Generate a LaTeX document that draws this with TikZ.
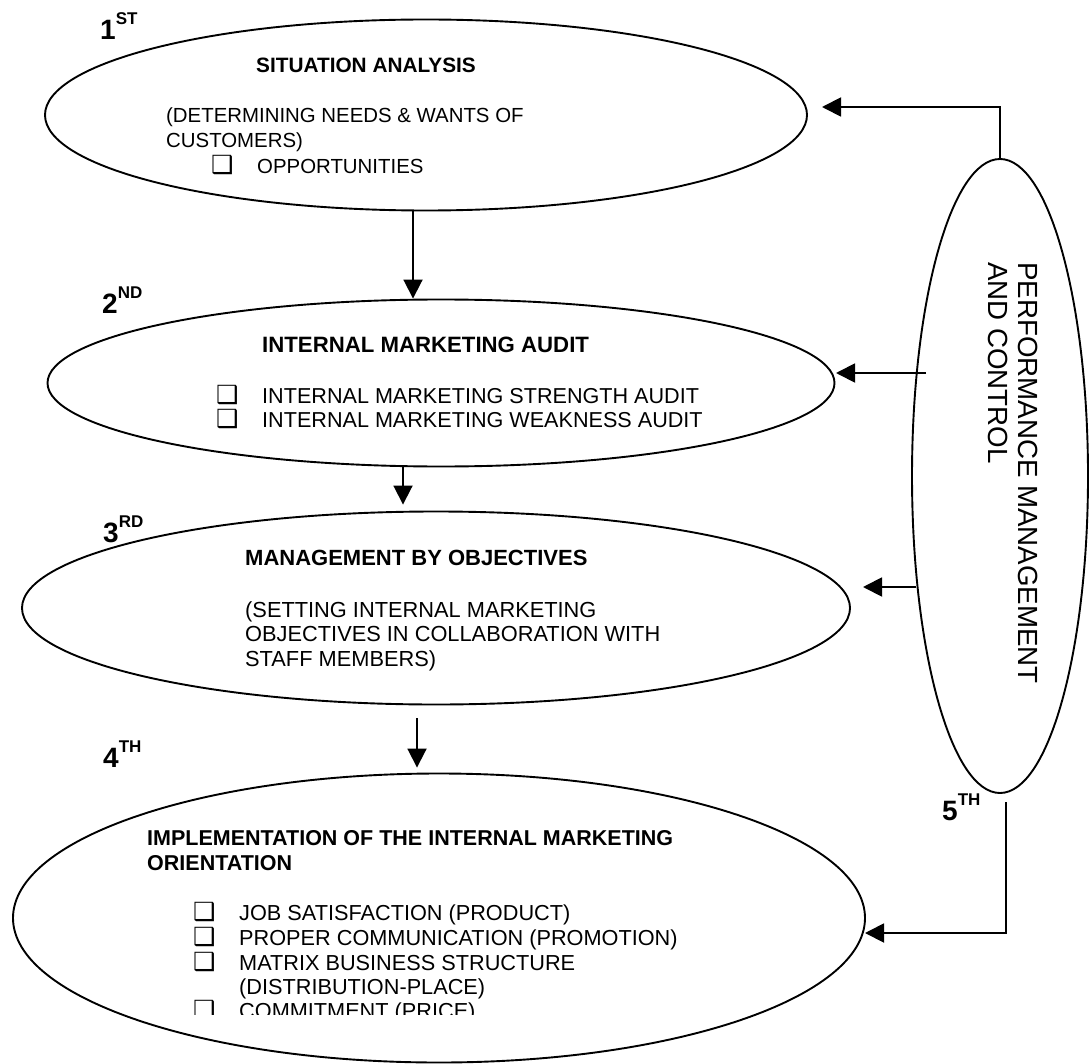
\documentclass[tikz,border=0pt]{standalone}
\usepackage{fontspec}
\setmainfont{Liberation Sans}
\newfontfamily\symfont{DejaVu Sans}
\usetikzlibrary{shapes.geometric,arrows.meta}
\newcommand\ordsup[1]{\raisebox{15pt}{\fontsize{17}{18}\selectfont\bfseries #1}}
\newcommand\bul{\makebox[44pt][l]{\hspace{-2pt}{\symfont\fontsize{25}{20}\selectfont ❑}}}
\begin{document}
\begin{tikzpicture}[x=1pt,y=-1pt,
  every node/.style={inner sep=0pt},
  oval/.style={draw, ellipse, line width=1.9pt},
  txt/.style={anchor=base west, font=\fontsize{#1}{24}\selectfont},
  txt/.default=21.8,
  btxt/.style={anchor=base west, font=\fontsize{#1}{24}\selectfont\bfseries},
  btxt/.default=21.8,
  ord/.style={anchor=base west, font=\fontsize{28}{30}\selectfont\bfseries},
  arr/.style={line width=1.9pt, -{Triangle[length=19pt,width=19pt]}}]
\useasboundingbox (0,0) rectangle (1091,1064);
\fill[white] (0,0) rectangle (1091,1064);

% ellipses
\node[oval, minimum width=762pt, minimum height=191pt] (e1) at (426,115) {};
\node[oval, minimum width=787pt, minimum height=167pt] (e2) at (441,383) {};
\node[oval, minimum width=828pt, minimum height=193pt] (e3) at (436,608) {};
\node[oval, minimum width=852pt, minimum height=289pt] (e4) at (439,918) {};
\node[oval, minimum width=176pt, minimum height=634pt] (perf) at (1000,476) {};

% ordinals
\node[ord] (o1) at (100,40) {1\ordsup{ST}};
\node[ord] (o2) at (102,313) {2\ordsup{ND}};
\node[ord] (o3) at (103,542) {3\ordsup{RD}};
\node[ord] (o4) at (103,767) {4\ordsup{TH}};
\node[ord] (o5) at (942,820) {5\ordsup{TH}};

% texts ellipse 1
\node[btxt=20.8] (h1) at (256,73) {SITUATION ANALYSIS};
\node[txt=20.4] (l1a) at (166,123) {(DETERMINING NEEDS \& WANTS OF};
\node[txt=20.4] (l1b) at (166,148) {CUSTOMERS)};
\node[txt=20.4] (l1c) at (213,174) {\bul OPPORTUNITIES};

% texts ellipse 2
\node[btxt=22.2] (h2) at (262,352) {INTERNAL MARKETING AUDIT};
\node[txt=21.6] (l2a) at (218,403) {\bul INTERNAL MARKETING STRENGTH AUDIT};
\node[txt=21.6] (l2b) at (218,427) {\bul INTERNAL MARKETING WEAKNESS AUDIT};

% texts ellipse 3
\node[btxt=22] (h3) at (245,565) {MANAGEMENT BY OBJECTIVES};
\node[txt=21.8] (l3a) at (245,617) {(SETTING INTERNAL MARKETING};
\node[txt=21.8] (l3b) at (245,641) {OBJECTIVES IN COLLABORATION WITH};
\node[txt=21.8] (l3c) at (245,666) {STAFF MEMBERS)};

% texts ellipse 4
\node[btxt=21.5] (h4a) at (147,845) {IMPLEMENTATION OF THE INTERNAL MARKETING};
\node[btxt=21.5] (h4b) at (147,870) {ORIENTATION};
\node[txt=21.7] (l4a) at (195,920) {\bul JOB SATISFACTION (PRODUCT)};
\node[txt=21.7] (l4b) at (195,945) {\bul PROPER COMMUNICATION (PROMOTION)};
\node[txt=21.7] (l4c) at (195,970) {\bul MATRIX BUSINESS STRUCTURE};
\node[txt=21.7] (l4d) at (239,994) {(DISTRIBUTION-PLACE)};
\begin{scope}
\clip (0,0) rectangle (1091,1014);
\node[txt=21.7] (l4e) at (195,1018) {\bul COMMITMENT (PRICE)};
\end{scope}

% performance text
\node[rotate=-90, anchor=north west, align=left, font=\fontsize{27.7}{30}\selectfont] (ptxt) at (1038,262) {PERFORMANCE MANAGEMENT\\AND CONTROL};

% downward arrows
\coordinate (a12) at (413,0);
\coordinate (a23) at (403,0);
\coordinate (a34) at (417,0);
\draw[arr] (a12 |- e1.south) -- (a12 |- e2.north);
\draw[arr, shorten >=6pt] (a23 |- e2.south) -- (a23 |- e3.north);
\draw[arr, shorten <=13pt, shorten >=5pt] (a34 |- e3.south) -- (a34 |- e4.north);

% feedback arrows
\coordinate (t1) at (822,107);
\coordinate (s2) at (926,373);
\coordinate (t2) at (836,373);
\coordinate (s3) at (916,587);
\coordinate (t3) at (863,587);
\coordinate (s4) at (1006,802);
\coordinate (t4) at (865,933);
\draw[arr] (perf.north) |- (t1);
\draw[arr] (s2) -- (t2);
\draw[arr] (s3) -- (t3);
\draw[arr] (s4) |- (t4);
\end{tikzpicture}
\end{document}
